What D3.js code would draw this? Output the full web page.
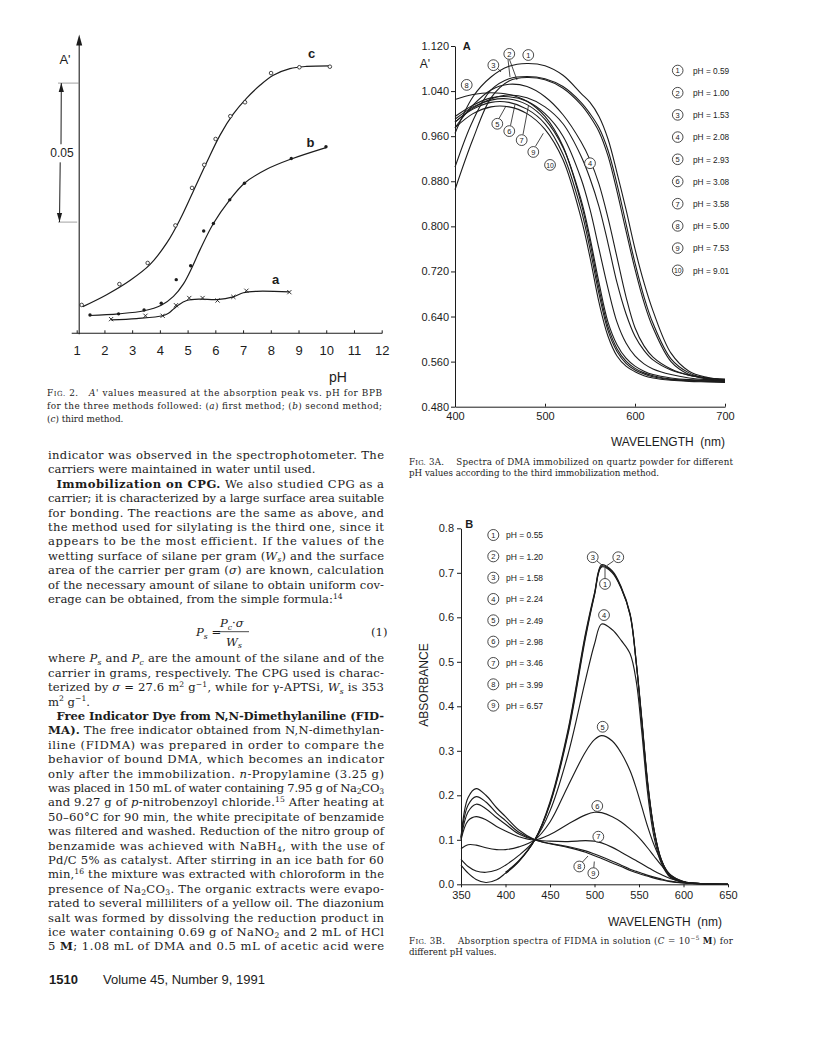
<!DOCTYPE html>
<html><head><meta charset="utf-8">
<script src="https://cdn.jsdelivr.net/npm/d3@7/dist/d3.min.js"></script>
<style>body{margin:0;background:#fff}</style>
</head><body>
<svg id="page" width="816" height="1056" xmlns="http://www.w3.org/2000/svg"></svg>
<script>
// ================= DATA =================
// Fig. 2 : A' vs pH
const fig2Ticks = [1,2,3,4,5,6,7,8,9,10,11,12];
const cPH = [1.18,2.54,3.56,4.56,5.16,5.60,6.01,6.54,7.07,8.01,9.03,10.13];
const cA  = [0.0102,0.0177,0.0253,0.0388,0.0523,0.0606,0.0699,0.0781,0.0831,0.0936,0.0957,0.0959];
const cFitPH = [1.22,2.08,2.92,3.64,4.25,4.73,5.21,5.69,6.17,6.65,7.13,7.61,8.09,8.69,9.29,10.13];
const cFitA  = [0.0096,0.0139,0.0190,0.0247,0.0325,0.0410,0.0512,0.0615,0.0713,0.0789,0.0846,0.0892,0.0928,0.0952,0.0960,0.0962];
const bPH = [1.48,2.51,3.43,4.05,4.59,5.11,5.58,5.93,6.52,7.05,8.74,9.99];
const bA  = [0.0066,0.0070,0.0084,0.0108,0.0193,0.0243,0.0368,0.0395,0.0480,0.0540,0.0629,0.0671];
const bFitPH = [1.46,2.51,3.43,4.05,4.49,4.85,5.15,5.45,5.93,6.52,7.05,7.85,8.74,9.99];
const bFitA  = [0.0064,0.0070,0.0081,0.0101,0.0133,0.0178,0.0235,0.0301,0.0395,0.0480,0.0540,0.0590,0.0627,0.0668];
const aPH = [2.24,3.48,4.10,4.58,5.06,5.54,6.08,6.65,7.12,8.67];
const aA  = [0.0051,0.0063,0.0063,0.0101,0.0127,0.0127,0.0118,0.0131,0.0153,0.0148];
const aFitPH = [2.24,3.16,4.10,4.31,4.49,4.67,4.97,5.45,6.05,6.65,7.01,7.49,8.67];
const aFitA  = [0.0048,0.0053,0.0063,0.0072,0.0087,0.0102,0.0118,0.0123,0.0121,0.0131,0.0146,0.0151,0.0149];

// Fig. 3A : spectra of immobilized DMA
const aYTicks = [0.48,0.56,0.64,0.72,0.80,0.88,0.96,1.04,1.12];
const aXTicks = [400,500,600,700];
const aWL = [400,420,440,460,480,500,520,540,550,560,570,580,590,600,610,620,640,660,680,700];
const a1  = [0.965,1.030,1.065,1.084,1.089,1.085,1.068,1.036,1.020,0.995,0.955,0.895,0.830,0.760,0.700,0.650,0.575,0.543,0.532,0.527];
const a2  = [0.905,0.988,1.042,1.062,1.066,1.062,1.048,1.020,1.000,0.975,0.935,0.875,0.805,0.735,0.675,0.628,0.565,0.540,0.530,0.526];
const a3  = [0.865,0.955,1.028,1.058,1.064,1.060,1.045,1.016,0.995,0.968,0.925,0.862,0.792,0.724,0.665,0.620,0.560,0.537,0.529,0.525];
const a4  = [0.975,1.015,1.042,1.052,1.048,1.030,0.998,0.950,0.918,0.875,0.815,0.745,0.675,0.620,0.588,0.568,0.547,0.536,0.531,0.528];
const a5  = [0.990,1.012,1.024,1.026,1.016,0.990,0.940,0.848,0.780,0.700,0.630,0.590,0.566,0.552,0.543,0.537,0.531,0.528,0.527,0.526];
const a6  = [0.995,1.015,1.028,1.030,1.022,1.000,0.960,0.885,0.830,0.760,0.690,0.630,0.593,0.570,0.556,0.547,0.537,0.531,0.528,0.527];
const a7  = [0.985,1.010,1.026,1.033,1.028,1.012,0.982,0.925,0.885,0.835,0.770,0.700,0.645,0.605,0.580,0.563,0.545,0.536,0.531,0.529];
const a8  = [1.025,1.034,1.037,1.034,1.022,0.995,0.942,0.842,0.772,0.690,0.622,0.583,0.561,0.548,0.540,0.535,0.529,0.527,0.526,0.525];
const a9  = [0.985,1.008,1.020,1.020,1.008,0.982,0.928,0.830,0.760,0.680,0.615,0.578,0.557,0.545,0.538,0.533,0.528,0.526,0.525,0.524];
const a10 = [0.975,1.000,1.012,1.012,1.000,0.972,0.918,0.815,0.745,0.665,0.605,0.570,0.552,0.542,0.535,0.531,0.527,0.525,0.524,0.523];
const aPHvals = [0.59,1.00,1.53,2.08,2.93,3.08,3.58,5.00,7.53,9.01];
// curve-label anchors (wavelength, A')
const aLabWL  = [481.4,460.3,442.6,550,447,460.3,474.1,413,487,505.6];
const aLabVal = [1.104,1.106,1.086,0.912,0.982,0.969,0.953,1.051,0.932,0.909];

// Fig. 3B : spectra of FIDMA in solution
const bYTicks = [0.0,0.1,0.2,0.3,0.4,0.5,0.6,0.7,0.8];
const bXTicks = [350,400,450,500,550,600,650];
const bWL = [350,358,367,378,390,400,415,433,450,470,490,500,508,520,530,540,547,553,560,567,575,585,600,625,650];
const b1 = [0.043,0.025,0.011,0.004,0.010,0.025,0.052,0.100,0.180,0.335,0.555,0.650,0.713,0.700,0.665,0.605,0.495,0.370,0.220,0.120,0.055,0.018,0.005,0.001,0.000];
const b2 = [null,null,null,null,null,0.027,0.053,0.100,0.185,0.345,0.565,0.655,0.718,0.704,0.668,0.608,0.498,0.375,0.225,0.122,0.056,0.019,0.005,0.001,0.000];
const b3 = [null,null,null,null,null,0.024,0.051,0.100,0.182,0.340,0.560,0.652,0.715,0.702,0.666,0.606,0.496,0.372,0.222,0.121,0.055,0.018,0.005,0.001,0.000];
const b4 = [0.056,0.040,0.030,0.027,0.032,0.043,0.065,0.100,0.165,0.290,0.460,0.540,0.585,0.572,0.548,0.518,0.455,0.345,0.200,0.105,0.048,0.016,0.005,0.001,0.000];
const b5 = [0.080,0.089,0.088,0.082,0.078,0.078,0.084,0.100,0.140,0.220,0.298,0.325,0.334,0.322,0.295,0.255,0.215,0.175,0.128,0.088,0.052,0.022,0.006,0.001,0.000];
const b6 = [0.100,0.143,0.152,0.145,0.130,0.120,0.107,0.100,0.112,0.135,0.156,0.162,0.161,0.152,0.140,0.124,0.111,0.098,0.081,0.063,0.043,0.021,0.006,0.001,0.000];
const b7 = [0.102,0.163,0.180,0.170,0.150,0.135,0.113,0.100,0.097,0.096,0.098,0.097,0.093,0.083,0.072,0.061,0.053,0.046,0.038,0.030,0.022,0.013,0.005,0.001,0.000];
const b8 = [0.105,0.178,0.197,0.185,0.160,0.143,0.117,0.100,0.092,0.085,0.075,0.068,0.062,0.052,0.043,0.034,0.029,0.025,0.020,0.016,0.012,0.007,0.003,0.001,0.000];
const b9 = [0.105,0.195,0.215,0.200,0.172,0.152,0.122,0.100,0.091,0.083,0.072,0.064,0.058,0.048,0.040,0.031,0.026,0.022,0.018,0.014,0.010,0.006,0.003,0.001,0.000];
const bPHvals = [0.55,1.20,1.58,2.24,2.49,2.98,3.46,3.99,6.57];
const bLabWL  = [511.8,526.7,498,510.7,509.2,503.1,504.3,482.9,498.7];
const bLabVal = [0.675,0.735,0.735,0.605,0.354,0.176,0.107,0.040,0.025];

// Page text
const bodyA = [
 "indicator was observed in the spectrophotometer. The",
 "carriers were maintained in water until used.",
 "{b:Immobilization on CPG.} We also studied CPG as a",
 "carrier; it is characterized by a large surface area suitable",
 "for bonding. The reactions are the same as above, and",
 "the method used for silylating is the third one, since it",
 "appears to be the most efficient. If the values of the",
 "wetting surface of silane per gram ({i:W}{di:s}) and the surface",
 "area of the carrier per gram ({i:σ}) are known, calculation",
 "of the necessary amount of silane to obtain uniform cov-",
 "erage can be obtained, from the simple formula:{u:14}"
];
const bodyAFree = [1,10];
const bodyAIndent = [2];
const bodyB = [
 "where {i:P}{di:s} and {i:P}{di:c} are the amount of the silane and of the",
 "carrier in grams, respectively. The CPG used is charac-",
 "terized by {i:σ} = 27.6 m{u:2} g{u:−1}, while for γ-APTSi, {i:W}{di:s} is 353",
 "m{u:2} g{u:−1}.",
 "{b:Free Indicator Dye from N,N-Dimethylaniline (FID-}",
 "{b:MA).} The free indicator obtained from N,N-dimethylan-",
 "iline (FIDMA) was prepared in order to compare the",
 "behavior of bound DMA, which becomes an indicator",
 "only after the immobilization. {i:n}-Propylamine (3.25 g)",
 "was placed in 150 mL of water containing 7.95 g of Na{d:2}CO{d:3}",
 "and 9.27 g of {i:p}-nitrobenzoyl chloride.{u:15} After heating at",
 "50–60°C for 90 min, the white precipitate of benzamide",
 "was filtered and washed. Reduction of the nitro group of",
 "benzamide was achieved with NaBH{d:4}, with the use of",
 "Pd/C 5% as catalyst. After stirring in an ice bath for 60",
 "min,{u:16} the mixture was extracted with chloroform in the",
 "presence of Na{d:2}CO{d:3}. The organic extracts were evapo-",
 "rated to several milliliters of a yellow oil. The diazonium",
 "salt was formed by dissolving the reduction product in",
 "ice water containing 0.69 g of NaNO{d:2} and 2 mL of HCl",
 "5 {b:M}; 1.08 mL of DMA and 0.5 mL of acetic acid were"
];
const bodyBFree = [3];
const bodyBIndent = [4];
const cap2 = [
 "{sc:Fig.} 2.   {i:A'} values measured at the absorption peak vs. pH for BPB",
 "for the three methods followed: ({i:a}) first method; ({i:b}) second method;",
 "({i:c}) third method."
];
const cap3A = [
 "{sc:Fig.} 3A.    Spectra of DMA immobilized on quartz powder for different",
 "pH values according to the third immobilization method."
];
const cap3B = [
 "{sc:Fig.} 3B.    Absorption spectra of FIDMA in solution ({i:C} = 10{u:−5} {b:M}) for",
 "different pH values."
];

// ================= RENDER =================
const svg = d3.select('#page');
const INK = '#1c1c1c';
const SANS = '"Liberation Sans", Arial, Helvetica, sans-serif';
const SERIF = '"DejaVu Serif", "Liberation Serif", serif';

function parseRich(str){
  return str.split(/(\{[a-z]+:[^}]*\})/g).filter(s=>s.length).map(s=>{
    const m = s.match(/^\{([a-z]+):(.*)\}$/);
    return m ? [m[1], m[2]] : ['', s];
  });
}
function rich(parent, x, y, str, fs, width){
  const t = parent.append('text').attr('x', x).attr('y', y)
    .attr('font-family', SERIF).attr('font-size', fs).attr('fill', INK)
    .style('white-space','pre');
  let shift = 0;
  const add = (txt, opt) => {
    const target = opt.shift || 0;
    const ts = t.append('tspan').text(txt);
    if (target !== shift) ts.attr('dy', target - shift);
    shift = target;
    if (opt.size) ts.attr('font-size', opt.size);
    if (opt.bold) ts.attr('font-weight', 'bold');
    if (opt.italic) ts.attr('font-style', 'italic');
  };
  parseRich(str).forEach(([c, s]) => {
    if (c === 'b') add(s, {bold:true});
    else if (c === 'i') add(s, {italic:true});
    else if (c === 'd') add(s, {shift: fs*0.22, size: fs*0.66});
    else if (c === 'di') add(s, {shift: fs*0.22, size: fs*0.66, italic:true});
    else if (c === 'u') add(s, {shift: -fs*0.36, size: fs*0.66});
    else if (c === 'sc') { add(s[0], {}); add(s.slice(1).toUpperCase(), {size: fs*0.78}); }
    else add(s, {});
  });
  if (shift !== 0) t.append('tspan').attr('dy', -shift).text('');
  if (width) t.attr('textLength', width).attr('lengthAdjust', 'spacing');
  return t;
}

// ---------- Fig 2 ----------
const x2 = d3.scaleLinear().domain([1,12]).range([76.7,381.7]);
const y2 = d3.scaleLinear().domain([0,0.1]).range([333.3,55.3]);
const g2 = svg.append('g');
const ax2 = g2.append('g').attr('transform', `translate(0,${y2(0)})`)
  .call(d3.axisBottom(x2).tickValues(fig2Ticks).tickSizeInner(-3).tickSizeOuter(0).tickPadding(12).tickFormat(d3.format('d')));
ax2.select('.domain').remove();
ax2.selectAll('line').attr('stroke', INK);
ax2.selectAll('text').attr('font-family', SANS).attr('font-size', 13).attr('fill', INK);
g2.append('line').attr('x1', x2(0.82)).attr('x2', x2(12.02)).attr('y1', y2(0)).attr('y2', y2(0)).attr('stroke', INK).attr('stroke-width', 1.1);
const yAxX = x2(1.09);
g2.append('line').attr('x1', yAxX).attr('x2', yAxX).attr('y1', y2(0)+1).attr('y2', y2(0.104)).attr('stroke', INK).attr('stroke-width', 1.1);
g2.append('path').attr('d', `M${yAxX},${y2(0.1075)} L${yAxX-3},${y2(0.1035)} L${yAxX+3},${y2(0.1035)} Z`).attr('fill', INK);
// scale bracket 0.05
const brX = 60.5;
g2.append('line').attr('x1', 58).attr('x2', yAxX).attr('y1', y2(0.09)).attr('y2', y2(0.09)).attr('stroke', '#8a8a8a').attr('stroke-width', 0.8);
g2.append('line').attr('x1', 58).attr('x2', yAxX-2).attr('y1', y2(0.04)).attr('y2', y2(0.04)).attr('stroke', '#8a8a8a').attr('stroke-width', 0.8);
g2.append('line').attr('x1', brX+0.8).attr('x2', brX+0.5).attr('y1', y2(0.09)).attr('y2', y2(0.068)).attr('stroke', INK).attr('stroke-width', 1);
g2.append('line').attr('x1', brX-0.3).attr('x2', brX-1).attr('y1', y2(0.0615)).attr('y2', y2(0.04)).attr('stroke', INK).attr('stroke-width', 1);
g2.append('path').attr('d', `M${brX+0.8},${y2(0.09)} l-2.6,9 l5.2,0 Z`).attr('fill', INK);
g2.append('path').attr('d', `M${brX-1},${y2(0.04)} l-2.6,-9 l5.2,0 Z`).attr('fill', INK);
g2.append('text').attr('x', 62).attr('y', y2(0.0648)).attr('text-anchor','middle').attr('dominant-baseline','central')
  .attr('font-family', SANS).attr('font-size', 12).attr('fill', INK).text('0.05');
g2.append('text').attr('x', 65).attr('y', 64).attr('text-anchor','middle')
  .attr('font-family', SANS).attr('font-size', 13).attr('fill', INK).text("A'");
g2.append('text').attr('x', 338).attr('y', 382).attr('text-anchor','middle')
  .attr('font-family', SANS).attr('font-size', 14).attr('fill', INK).text('pH');
const line2 = d3.line().x(d=>x2(d[0])).y(d=>y2(d[1])).curve(d3.curveCatmullRom.alpha(0.5));
[[cFitPH,cFitA],[bFitPH,bFitA],[aFitPH,aFitA]].forEach(([xs,ys])=>{
  g2.append('path').attr('d', line2(xs.map((v,i)=>[v,ys[i]]))).attr('fill','none').attr('stroke', INK).attr('stroke-width', 1.2);
});
cPH.forEach((p,i)=>g2.append('circle').attr('cx',x2(p)).attr('cy',y2(cA[i])).attr('r',1.8).attr('fill','#fff').attr('stroke',INK).attr('stroke-width',0.8));
bPH.forEach((p,i)=>g2.append('circle').attr('cx',x2(p)).attr('cy',y2(bA[i])).attr('r',1.7).attr('fill',INK));
aPH.forEach((p,i)=>{
  const cx=x2(p), cy=y2(aA[i]), s=2.1;
  g2.append('path').attr('d',`M${cx-s},${cy-s}L${cx+s},${cy+s}M${cx-s},${cy+s}L${cx+s},${cy-s}`).attr('stroke',INK).attr('stroke-width',0.9);
});
[['c',9.47,0.1005],['b',9.43,0.0686],['a',8.17,0.0192]].forEach(([t,p,v])=>{
  g2.append('text').attr('x',x2(p)).attr('y',y2(v)).attr('text-anchor','middle').attr('dominant-baseline','central')
   .attr('font-family',SANS).attr('font-weight','bold').attr('font-size',13).attr('fill',INK).text(t);
});
cap2.forEach((s,i)=>rich(svg, 47, 396.2 + i*12.8, s, 8.9, i<2 ? 335 : 0));

// ---------- Fig 3A ----------
const xA = d3.scaleLinear().domain([400,700]).range([455,725]);
const yA = d3.scaleLinear().domain([0.48,1.12]).range([406.7,46]);
const gA = svg.append('g');
const axAy = gA.append('g').attr('transform',`translate(${xA(400)},0)`)
  .call(d3.axisLeft(yA).tickValues(aYTicks).tickFormat(d3.format('.3f')).tickSizeInner(4).tickSizeOuter(0).tickPadding(2));
const axAx = gA.append('g').attr('transform',`translate(0,${yA(0.48)})`)
  .call(d3.axisBottom(xA).tickValues(aXTicks).tickFormat(d3.format('d')).tickSizeInner(-3).tickSizeOuter(0).tickPadding(6));
[axAy, axAx].forEach(a=>{
  a.selectAll('.domain,line').attr('stroke', INK);
  a.selectAll('text').attr('font-family',SANS).attr('font-size',11).attr('fill',INK);
});
gA.append('text').attr('x',425).attr('y',68).attr('text-anchor','middle').attr('font-family',SANS).attr('font-size',12).attr('fill',INK).text("A'");
gA.append('text').attr('x',466.7).attr('y',50).attr('text-anchor','middle').attr('font-family',SANS).attr('font-weight','bold').attr('font-size',11).attr('fill',INK).text('A');
gA.append('text').attr('x',725).attr('y',446).attr('text-anchor','end').attr('font-family',SANS).attr('font-size',12).attr('fill',INK).style('white-space','pre').text('WAVELENGTH  (nm)');
const lineA = d3.line().x(d=>xA(d[0])).y(d=>yA(d[1])).curve(d3.curveCatmullRom.alpha(0.5));
[a1,a2,a3,a4,a5,a6,a7,a8,a9,a10].forEach(arr=>{
  gA.append('path').attr('d', lineA(aWL.map((w,i)=>[w,arr[i]]))).attr('fill','none').attr('stroke',INK).attr('stroke-width',1.1);
});
// leaders
const leadA = [[[499,118.5],[506,106]],[[510.5,125.5],[515,104.5]],[[523,134.5],[528.5,105.5]],[[535.5,146.3],[543.3,133.3]],
  [[508,59.5],[510,77]],[[509.5,59.5],[517,80]],[[497.8,68.5],[501,72]]];
leadA.forEach(([p,q])=>gA.append('line').attr('x1',p[0]).attr('y1',p[1]).attr('x2',q[0]).attr('y2',q[1]).attr('stroke',INK).attr('stroke-width',0.8));
aLabWL.forEach((w,i)=>{
  const cx=xA(w), cy=yA(aLabVal[i]);
  gA.append('circle').attr('cx',cx).attr('cy',cy).attr('r',5.4).attr('fill','#fff').attr('stroke',INK).attr('stroke-width',0.8);
  gA.append('text').attr('x',cx).attr('y',cy+0.3).attr('text-anchor','middle').attr('dominant-baseline','central')
    .attr('font-family',SANS).attr('font-size', i===9?6.8:7.5).attr('fill',INK).text(i+1);
});
aPHvals.forEach((v,i)=>{
  const cy = 70.5 + i*22.2;
  gA.append('circle').attr('cx',677.7).attr('cy',cy).attr('r',5.3).attr('fill','#fff').attr('stroke',INK).attr('stroke-width',0.8);
  gA.append('text').attr('x',677.7).attr('y',cy+0.3).attr('text-anchor','middle').attr('dominant-baseline','central')
    .attr('font-family',SANS).attr('font-size', i===9?6.8:7.5).attr('fill',INK).text(i+1);
  gA.append('text').attr('x',693).attr('y',cy+0.3).attr('dominant-baseline','central')
    .attr('font-family',SANS).attr('font-size',8.3).attr('fill',INK).text('pH = ' + d3.format('.2f')(v));
});
cap3A.forEach((s,i)=>rich(svg, 409, 464.5 + i*11, s, 8.7, i<1 ? 324 : 0));

// ---------- Fig 3B ----------
const xB = d3.scaleLinear().domain([350,650]).range([461,728]);
const yB = d3.scaleLinear().domain([0,0.8]).range([884.3,528.3]);
const gB = svg.append('g');
const axBy = gB.append('g').attr('transform',`translate(${xB(350)},0)`)
  .call(d3.axisLeft(yB).tickValues(bYTicks).tickFormat(d3.format('.1f')).tickSizeInner(4).tickSizeOuter(0).tickPadding(3));
const axBx = gB.append('g').attr('transform',`translate(0,${yB(0)})`)
  .call(d3.axisBottom(xB).tickValues(bXTicks).tickFormat(d3.format('d')).tickSizeInner(3).tickSizeOuter(0).tickPadding(4));
[axBy, axBx].forEach(a=>{
  a.selectAll('.domain,line').attr('stroke', INK);
  a.selectAll('text').attr('font-family',SANS).attr('font-size',11).attr('fill',INK);
});
gB.append('text').attr('transform','translate(424,685) rotate(-90)').attr('text-anchor','middle').attr('dominant-baseline','central')
  .attr('font-family',SANS).attr('font-size',12).attr('fill',INK).text('ABSORBANCE');
gB.append('text').attr('x',469.3).attr('y',527.5).attr('text-anchor','middle').attr('font-family',SANS).attr('font-weight','bold').attr('font-size',11).attr('fill',INK).text('B');
gB.append('text').attr('x',722).attr('y',926).attr('text-anchor','end').attr('font-family',SANS).attr('font-size',12).attr('fill',INK).style('white-space','pre').text('WAVELENGTH  (nm)');
const lineB = d3.line().x(d=>xB(d[0])).y(d=>yB(d[1])).curve(d3.curveCatmullRom.alpha(0.5));
[b1,b2,b3,b4,b5,b6,b7,b8,b9].forEach(arr=>{
  const pts = bWL.map((w,i)=>[w,arr[i]]).filter(d=>d[1]!==null);
  gB.append('path').attr('d', lineB(pts)).attr('fill','none').attr('stroke',INK).attr('stroke-width',1.15);
});
const leadB = [[[597,561],[602.5,565.5]],[[613.5,561],[607,565.5]],[[605,578.5],[605,567.5]],[[582.5,862],[588,856]],[[593.8,867.8],[594.3,861.5]]];
leadB.forEach(([p,q])=>gB.append('line').attr('x1',p[0]).attr('y1',p[1]).attr('x2',q[0]).attr('y2',q[1]).attr('stroke',INK).attr('stroke-width',0.8));
bLabWL.forEach((w,i)=>{
  const cx=xB(w), cy=yB(bLabVal[i]);
  gB.append('circle').attr('cx',cx).attr('cy',cy).attr('r',5.4).attr('fill','#fff').attr('stroke',INK).attr('stroke-width',0.8);
  gB.append('text').attr('x',cx).attr('y',cy+0.3).attr('text-anchor','middle').attr('dominant-baseline','central')
    .attr('font-family',SANS).attr('font-size',7.5).attr('fill',INK).text(i+1);
});
bPHvals.forEach((v,i)=>{
  const cy = 535 + i*21.33;
  gB.append('circle').attr('cx',493.3).attr('cy',cy).attr('r',5.5).attr('fill','#fff').attr('stroke',INK).attr('stroke-width',0.8);
  gB.append('text').attr('x',493.3).attr('y',cy+0.3).attr('text-anchor','middle').attr('dominant-baseline','central')
    .attr('font-family',SANS).attr('font-size',7.5).attr('fill',INK).text(i+1);
  gB.append('text').attr('x',506).attr('y',cy+0.3).attr('dominant-baseline','central')
    .attr('font-family',SANS).attr('font-size',8.5).attr('fill',INK).text('pH = ' + d3.format('.2f')(v));
});
cap3B.forEach((s,i)=>rich(svg, 409, 943.5 + i*11, s, 8.7, i<1 ? 324 : 0));

// ---------- Body text ----------
const L = 48, W = 336, IND = 8.5, FS = 11.6, LH = 14.4;
bodyA.forEach((s,i)=>{
  const ind = bodyAIndent.includes(i) ? IND : 0;
  rich(svg, L+ind, 459 + i*LH, s, FS, bodyAFree.includes(i) ? 0 : W-ind);
});
// formula (1)
const fg = svg.append('g');
rich(fg, 196, 636, "{i:P}{di:s} =", FS, 0);
rich(fg, 220, 627, "{i:P}{di:c}·{i:σ}", FS, 0);
fg.append('line').attr('x1',218.5).attr('x2',249).attr('y1',631.7).attr('y2',631.7).attr('stroke',INK).attr('stroke-width',0.8);
rich(fg, 226, 645.5, "{i:W}{di:s}", FS, 0);
rich(fg, 371, 636, "(1)", FS, 0);
bodyB.forEach((s,i)=>{
  const ind = bodyBIndent.includes(i) ? IND : 0;
  rich(svg, L+ind, 662.3 + i*LH, s, FS, bodyBFree.includes(i) ? 0 : W-ind);
});
// footer
svg.append('text').attr('x',49).attr('y',984).attr('font-family',SANS).attr('font-weight','bold').attr('font-size',13).attr('fill',INK).text('1510');
svg.append('text').attr('x',103).attr('y',984).attr('font-family',SANS).attr('font-size',13).attr('fill',INK).text('Volume 45, Number 9, 1991');
</script>
</body></html>
